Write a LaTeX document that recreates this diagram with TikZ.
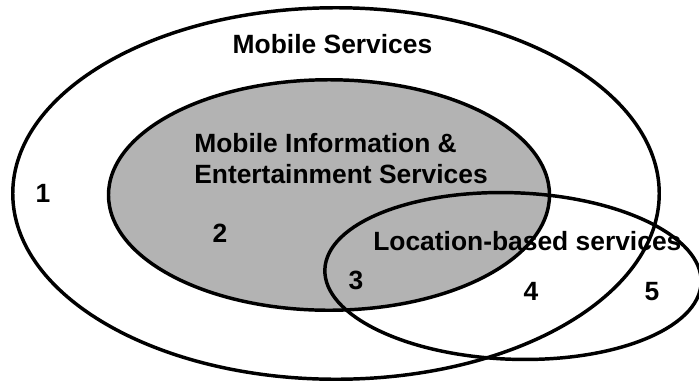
\documentclass[tikz,border=0pt]{standalone}
\usepackage{fontspec}
\setmainfont{Liberation Sans}
\usetikzlibrary{shapes.geometric}
\definecolor{infogray}{RGB}{179,179,179}
\tikzset{venn/.style={ellipse,draw,line width=2.6pt,inner sep=0pt,outer sep=0pt},lbl/.style={font=\fontsize{19.8}{23.25}\selectfont\bfseries,inner sep=0pt}}

\begin{document}
\begin{tikzpicture}[x=0.75pt,y=-0.75pt]
  \useasboundingbox (0,0) rectangle (699,383);
  \node[venn,minimum width=646.5*0.75pt,minimum height=371.5*0.75pt] (ms) at (336,193.5) {};
  \node[venn,fill=infogray,minimum width=441*0.75pt,minimum height=230.5*0.75pt] (mie) at (329,195) {};
  \node[venn,rotate=-2,minimum width=376.5*0.75pt,minimum height=166.5*0.75pt] (lbs) at (513,276) {};
  \node[lbl,anchor=base] (tms) at (332.5,53) {Mobile Services};
  \node[lbl,anchor=north west,align=left] (tmie) at (194,133) {Mobile Information \&\\Entertainment Services};
  \node[lbl,anchor=base west] (tlbs) at (373,250) {Location-based services};
  \node[lbl,anchor=base] (n1) at (43,202) {1};
  \node[lbl,anchor=base] (n2) at (220,242) {2};
  \node[lbl,anchor=base] (n3) at (356,289) {3};
  \node[lbl,anchor=base] (n4) at (531,300) {4};
  \node[lbl,anchor=base] (n5) at (652,300) {5};
\end{tikzpicture}
\end{document}
